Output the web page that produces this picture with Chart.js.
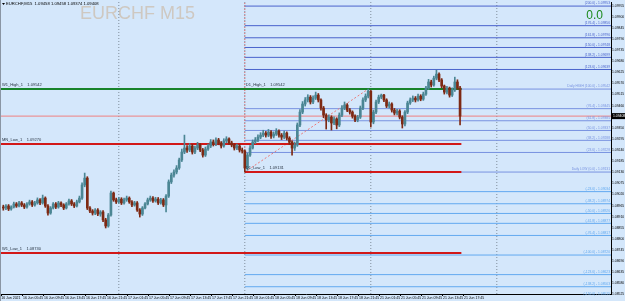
<!DOCTYPE html>
<html>
<head>
<meta charset="utf-8">
<script src="https://cdn.jsdelivr.net/npm/chart.js@4.4.1/dist/chart.umd.min.js"></script>
<style>
  html, body { margin: 0; padding: 0; background: #d4e7fb; overflow: hidden; }
  canvas { display: block; }
</style>
</head>
<body>
<canvas id="c" width="625" height="301"></canvas>
<script>
// EURCHF M15 chart, 30-min candles (x = candle index).
const symbol = 'EURCHF,M15';
const watermark = 'EURCHF M15';
const headerQuote = '1.09458 1.09458 1.09374 1.09408';
const firstOpen = 1.08958;
const bid = 1.09408;

const closes = [
  1.08953, 1.08963, 1.08948, 1.08958, 1.08973, 1.08963, 1.08978, 1.08968, 1.08958, 1.08973, 1.08983, 1.08968, 1.08978, 1.08993, 1.08978,
  1.09002, 1.08963, 1.08928, 1.08953,
  1.08973, 1.08958, 1.08978, 1.08968, 1.08953, 1.08973, 1.08988, 1.08973, 1.08963, 1.08983, 1.09002,
  1.09067, 1.09101, 1.08953,
  1.08938, 1.08928, 1.08943, 1.08923, 1.08933,
  1.08894, 1.08864, 1.08918,
  1.09027, 1.08993,
  1.08983, 1.08997, 1.08978, 1.08993, 1.09002, 1.08983, 1.08968, 1.08978,
  1.08943, 1.08923, 1.08953,
  1.08973, 1.08993, 1.09002, 1.08988, 1.08997, 1.08978, 1.08993, 1.08968,
  1.09012,
  1.09082, 1.09116, 1.09131, 1.09151, 1.09191, 1.09230,
  1.09250, 1.09240, 1.09260, 1.09230, 1.09250, 1.09265, 1.09240, 1.09215, 1.09245, 1.09260,
  1.09280, 1.09270, 1.09290, 1.09275, 1.09260, 1.09285, 1.09295, 1.09275, 1.09265, 1.09250, 1.09260, 1.09240,
  1.09235, 1.09151, 1.09215, 1.09250, 1.09280,
  1.09290, 1.09304, 1.09314, 1.09324,
  1.09314, 1.09329, 1.09309, 1.09319, 1.09334, 1.09314, 1.09304, 1.09324, 1.09299, 1.09280,
  1.09250, 1.09265,
  1.09364, 1.09428, 1.09468,
  1.09488, 1.09502, 1.09478, 1.09497, 1.09512, 1.09488,
  1.09448, 1.09413, 1.09389, 1.09403, 1.09374, 1.09394, 1.09364, 1.09413,
  1.09448, 1.09463, 1.09438, 1.09428,
  1.09408, 1.09389, 1.09403,
  1.09448, 1.09488, 1.09507, 1.09532,
  1.09379, 1.09428,
  1.09478, 1.09502, 1.09512, 1.09488,
  1.09458, 1.09468, 1.09438, 1.09423, 1.09433, 1.09403, 1.09369,
  1.09428, 1.09473, 1.09488, 1.09497,
  1.09488, 1.09507, 1.09492, 1.09517,
  1.09547, 1.09577, 1.09562, 1.09596, 1.09616, 1.09587,
  1.09557, 1.09527, 1.09547, 1.09512, 1.09537,
  1.09577, 1.09547,
  1.09408
];

const highs = [
  1.08967, 1.08970, 1.08970, 1.08964, 1.08982, 1.08980, 1.08986, 1.08985, 1.08975, 1.08980, 1.08992, 1.08990, 1.08986, 1.09003, 1.09000,
  1.09017, 1.09008, 1.08970, 1.08960,
  1.08980, 1.08980, 1.08986, 1.08984, 1.08974, 1.08980, 1.08997, 1.08995, 1.08980, 1.08992, 1.09012,
  1.09078, 1.09126, 1.09108,
  1.08960, 1.08945, 1.08950, 1.08950, 1.08940,
  1.08940, 1.08902, 1.08926,
  1.09037, 1.09032,
  1.09002, 1.09006, 1.09004, 1.09002, 1.09012, 1.09008, 1.08990, 1.08986,
  1.08985, 1.08950, 1.08960,
  1.08980, 1.09002, 1.09012, 1.09009, 1.09006, 1.09005, 1.09001, 1.09000,
  1.09020,
  1.09092, 1.09126, 1.09142, 1.09163, 1.09200, 1.09245,
  1.09314, 1.09262, 1.09272, 1.09268, 1.09260, 1.09278, 1.09272, 1.09248, 1.09255, 1.09270,
  1.09292, 1.09290, 1.09300, 1.09298, 1.09282, 1.09296, 1.09306, 1.09300, 1.09284, 1.09272, 1.09270, 1.09268,
  1.09250, 1.09240, 1.09225, 1.09262, 1.09290,
  1.09302, 1.09315, 1.09326, 1.09338,
  1.09332, 1.09342, 1.09336, 1.09330, 1.09346, 1.09340, 1.09322, 1.09334, 1.09330, 1.09306,
  1.09286, 1.09280,
  1.09374, 1.09440, 1.09480,
  1.09500, 1.09514, 1.09510, 1.09508, 1.09527, 1.09520,
  1.09494, 1.09456, 1.09420, 1.09414, 1.09410, 1.09404, 1.09400, 1.09424,
  1.09460, 1.09478, 1.09470, 1.09446,
  1.09434, 1.09414, 1.09412,
  1.09458, 1.09498, 1.09518, 1.09542,
  1.09535, 1.09438,
  1.09488, 1.09512, 1.09517, 1.09516,
  1.09494, 1.09478, 1.09474, 1.09446, 1.09442, 1.09440, 1.09410,
  1.09436, 1.09482, 1.09498, 1.09508,
  1.09505, 1.09517, 1.09514, 1.09527,
  1.09556, 1.09590, 1.09586, 1.09606, 1.09636, 1.09622,
  1.09594, 1.09562, 1.09556, 1.09552, 1.09548,
  1.09601, 1.09588,
  1.09556
];

const lows = [
  1.08942, 1.08945, 1.08940, 1.08942, 1.08953, 1.08956, 1.08958, 1.08960, 1.08950, 1.08952, 1.08967, 1.08960, 1.08962, 1.08972, 1.08970,
  1.08972, 1.08956, 1.08918, 1.08922,
  1.08948, 1.08950, 1.08952, 1.08960, 1.08945, 1.08948, 1.08967, 1.08965, 1.08955, 1.08958, 1.08978,
  1.08996, 1.09058, 1.08945,
  1.08930, 1.08918, 1.08920, 1.08915, 1.08912,
  1.08885, 1.08854, 1.08858,
  1.08912, 1.08986,
  1.08975, 1.08976, 1.08970, 1.08972, 1.08986, 1.08976, 1.08960, 1.08962,
  1.08936, 1.08908, 1.08916,
  1.08948, 1.08968, 1.08986, 1.08980, 1.08982, 1.08970, 1.08972, 1.08960,
  1.08933,
  1.09005, 1.09074, 1.09106, 1.09122, 1.09144, 1.09183,
  1.09222, 1.09228, 1.09232, 1.09220, 1.09222, 1.09242, 1.09232, 1.09205, 1.09208, 1.09238,
  1.09252, 1.09260, 1.09262, 1.09266, 1.09250, 1.09254, 1.09276, 1.09268, 1.09256, 1.09240, 1.09242, 1.09230,
  1.09225, 1.09131, 1.09140, 1.09208, 1.09245,
  1.09272, 1.09282, 1.09296, 1.09306,
  1.09304, 1.09306, 1.09298, 1.09300, 1.09312, 1.09304, 1.09292, 1.09296, 1.09290, 1.09268,
  1.09215, 1.09238,
  1.09258, 1.09356, 1.09420,
  1.09458, 1.09478, 1.09468, 1.09470, 1.09490, 1.09478,
  1.09438, 1.09400, 1.09344, 1.09380, 1.09339, 1.09366, 1.09345, 1.09356,
  1.09405, 1.09440, 1.09430, 1.09418,
  1.09398, 1.09380, 1.09380,
  1.09396, 1.09440, 1.09480, 1.09498,
  1.09354, 1.09370,
  1.09420, 1.09470, 1.09494, 1.09480,
  1.09450, 1.09448, 1.09428, 1.09414, 1.09414, 1.09394, 1.09349,
  1.09360, 1.09420, 1.09466, 1.09480,
  1.09478, 1.09482, 1.09484, 1.09486,
  1.09510, 1.09540, 1.09552, 1.09556, 1.09588, 1.09578,
  1.09548, 1.09517, 1.09518, 1.09502, 1.09505,
  1.09530, 1.09540,
  1.09364
];

const opens = closes.map((c, i) => (i === 0 ? firstOpen : closes[i - 1]));

// price axis labels and time axis labels
const yTicks = [1.08525, 1.08580, 1.08635, 1.08690, 1.08745, 1.08800, 1.08855, 1.08910, 1.08965,
  1.09020, 1.09075, 1.09130, 1.09185, 1.09240, 1.09295, 1.09350, 1.09405, 1.09460, 1.09515,
  1.09570, 1.09625, 1.09680, 1.09735, 1.09790, 1.09845, 1.09900, 1.09955];
const xTickPos = [-0.8, 7.5, 15.5, 23.5, 31.5, 39.5, 47.5, 55.5, 63.5, 71.5, 79.5, 87.5,
  95.5, 103.5, 111.5, 119.5, 127.5, 135.5, 143.5, 151.5, 159.5, 167.5, 175.5];
const xTickLabels = ['16 Jun 2021', '16 Jun 05:45', '16 Jun 09:45', '16 Jun 13:45', '16 Jun 17:45', '16 Jun 21:45',
  '17 Jun 01:45', '17 Jun 05:45', '17 Jun 09:45', '17 Jun 13:45', '17 Jun 17:45', '17 Jun 21:45',
  '18 Jun 01:45', '18 Jun 05:45', '18 Jun 09:45', '18 Jun 13:45', '18 Jun 17:45', '18 Jun 21:45',
  '21 Jun 01:45', '21 Jun 05:45', '21 Jun 09:45', '21 Jun 13:45', '21 Jun 17:45'];

// day separators (candle index)
const daySeps = [44, 92, 140, 188];

// previous period highs / lows
const levelNames = ['W1_High_1', 'MN_Low_1', 'D1_High_1', 'D1_Low_1', 'W1_Low_1'];
const levelPrices = [1.09542, 1.09270, 1.09542, 1.09131, 1.08730];
const levelStart = [-0.9, -0.9, 92, 92, -0.9];

// D1 fibo on yesterday's range
const fibNames = ['(200.0)', '(176.4)', '(161.8)', '(150.0)', '(138.2)', '(123.6)', 'Daily HIGH (100.0)',
  '(76.4)', '(61.8)', '(50.0)', '(38.2)', '(23.6)', 'Daily LOW (0.0)',
  '(-23.6)', '(-38.2)', '(-50.0)', '(-61.8)', '(-76.4)', '(-100.0)', '(-123.6)', '(-138.2)', '(-150.0)'];
const fibPrices = [1.09953, 1.09856, 1.09796, 1.09748, 1.09699, 1.09639, 1.09542,
  1.09445, 1.09385, 1.09337, 1.09288, 1.09228, 1.09131,
  1.09034, 1.08974, 1.08926, 1.08877, 1.08817, 1.08720, 1.08623, 1.08563, 1.08515];
const fibStart = 92;
const trendFrom = [92, 1.09131];
const trendTo = [139, 1.09542];

const yMin = 1.08527, yMax = 1.09973;
const xMin = -0.88, xMax = 231.5;
const lastX = closes.length - 0.5;

const BG = '#d4e7fb', UP = '#4b8694', DOWN = '#7e2913';
const FONT = 'Liberation Sans';

const dHigh = levelPrices[2], dLow = levelPrices[3];
function fibColor(p) {
  if (p > dHigh + 1e-7) return '#4a63cc';
  if (p < dLow - 1e-7) return '#62a9f0';
  return '#7892e0';
}
function levelColor(n) { return n.indexOf('High') >= 0 ? '#17832a' : '#d21818'; }
const candleColor = (ctx) => (closes[ctx.dataIndex] >= opens[ctx.dataIndex] ? UP : DOWN);

function seg(x0, y0, x1, y1, color, width, order, dash) {
  return {
    type: 'line', data: [{ x: x0, y: y0 }, { x: x1, y: y1 }],
    borderColor: color, borderWidth: width, borderDash: dash || [],
    pointRadius: 0, fill: false, tension: 0, order,
  };
}

const datasets = [];
datasets.push({
  type: 'bar', data: closes.map((c, i) => ({ x: i, y: [opens[i], c] })),
  backgroundColor: candleColor, barThickness: 2, minBarLength: 1, grouped: false, borderWidth: 0, order: 0,
});
datasets.push({
  type: 'bar', data: closes.map((c, i) => ({ x: i, y: [lows[i], highs[i]] })),
  backgroundColor: candleColor, barThickness: 1, grouped: false, borderWidth: 0, order: 1,
});
levelNames.forEach((n, k) => datasets.push(seg(levelStart[k], levelPrices[k], lastX, levelPrices[k], levelColor(n), 2, 2)));
datasets.push(seg(xMin, bid, xMax, bid, '#ef8080', 1, 3));
datasets.push(seg(trendFrom[0], trendFrom[1], trendTo[0], trendTo[1], '#ec7a7a', 1, 4, [2, 2]));
datasets.push(seg(fibStart, dLow, fibStart, yMax, '#e25a5a', 1, 4, [1, 2]));
fibPrices.forEach((p) => datasets.push(seg(fibStart, p, xMax, p, fibColor(p), 1, 5)));
daySeps.forEach((s) => datasets.push(seg(s, yMin, s, yMax, '#7f8d9c', 1, 6, [1, 2])));

const overlay = {
  id: 'overlay',
  beforeDraw(chart) {
    const c = chart.ctx;
    c.save();
    c.fillStyle = BG;
    c.fillRect(0, 0, chart.width, chart.height);
    c.fillStyle = '#8a96a4';
    c.fillRect(0, 0, 1, chart.height);
    c.restore();
  },
  beforeDatasetsDraw(chart) {
    const c = chart.ctx;
    c.save();
    c.fillStyle = '#cec8c1';
    c.font = '18px ' + FONT;
    c.textBaseline = 'alphabetic';
    c.fillText(watermark, 80, 19);
    c.restore();
  },
  afterDraw(chart) {
    const c = chart.ctx, a = chart.chartArea;
    const xs = chart.scales.x, ys = chart.scales.y;
    c.save();
    // header
    c.fillStyle = '#000';
    c.beginPath(); c.moveTo(2, 3); c.lineTo(5, 3); c.lineTo(3.5, 5); c.closePath(); c.fill();
    c.font = '4.2px ' + FONT;
    c.textBaseline = 'middle';
    c.fillText(symbol + '  ' + headerQuote, 6, 4.2);
    // spread
    c.fillStyle = '#1b8a1b';
    c.font = '12px ' + FONT;
    c.textAlign = 'right';
    c.textBaseline = 'alphabetic';
    c.fillText('0.0', 603, 19);
    // level labels
    c.textAlign = 'left';
    c.textBaseline = 'bottom';
    c.font = '4px ' + FONT;
    c.fillStyle = '#263240';
    levelNames.forEach((n, k) => {
      const x = Math.max(a.left, xs.getPixelForValue(levelStart[k])) + 1;
      const y = ys.getPixelForValue(levelPrices[k]) - 2;
      c.fillText(n + '    ' + levelPrices[k].toFixed(5), x, y);
    });
    // fibo labels
    c.textAlign = 'right';
    c.font = '3.3px ' + FONT;
    fibPrices.forEach((p, k) => {
      c.fillStyle = fibColor(p);
      c.fillText(fibNames[k] + ' - ' + p.toFixed(5), a.right - 1, ys.getPixelForValue(p) - 1);
    });
    // bid tag
    const by = ys.getPixelForValue(bid);
    c.fillStyle = '#000';
    c.fillRect(a.right + 1, by - 3, chart.width - a.right - 1, 6);
    c.fillStyle = '#fff';
    c.textAlign = 'left';
    c.textBaseline = 'middle';
    c.font = '3.4px ' + FONT;
    c.fillText(bid.toFixed(5), a.right + 2, by);
    c.restore();
  },
};

new Chart(document.getElementById('c').getContext('2d'), {
  type: 'bar',
  data: { datasets },
  options: {
    responsive: false, animation: false, events: [],
    layout: { padding: { left: 1, top: 2, right: 0, bottom: 0 } },
    plugins: { legend: { display: false }, tooltip: { enabled: false } },
    scales: {
      x: {
        type: 'linear', min: xMin, max: xMax, offset: false,
        afterFit: (s) => { s.height = 7; },
        afterBuildTicks: (s) => { s.ticks = xTickPos.map((v) => ({ value: v })); },
        ticks: {
          autoSkip: false, maxRotation: 0, align: 'start', padding: 0, color: '#000',
          font: { family: FONT, size: 3.5 }, callback: (v, i) => xTickLabels[i],
        },
        grid: { drawOnChartArea: false, offset: false, tickLength: 2, color: '#000' },
        border: { color: '#000' },
      },
      y: {
        type: 'linear', position: 'right', min: yMin, max: yMax,
        afterFit: (s) => { s.width = 14; },
        afterBuildTicks: (s) => { s.ticks = yTicks.map((v) => ({ value: v })); },
        ticks: {
          autoSkip: false, padding: 0, color: '#000',
          font: { family: FONT, size: 3.4 }, callback: (v) => Number(v).toFixed(5),
        },
        grid: { drawOnChartArea: false, tickLength: 1, color: '#000' },
        border: { color: '#000' },
      },
    },
  },
  plugins: [overlay],
});
</script>
</body>
</html>
